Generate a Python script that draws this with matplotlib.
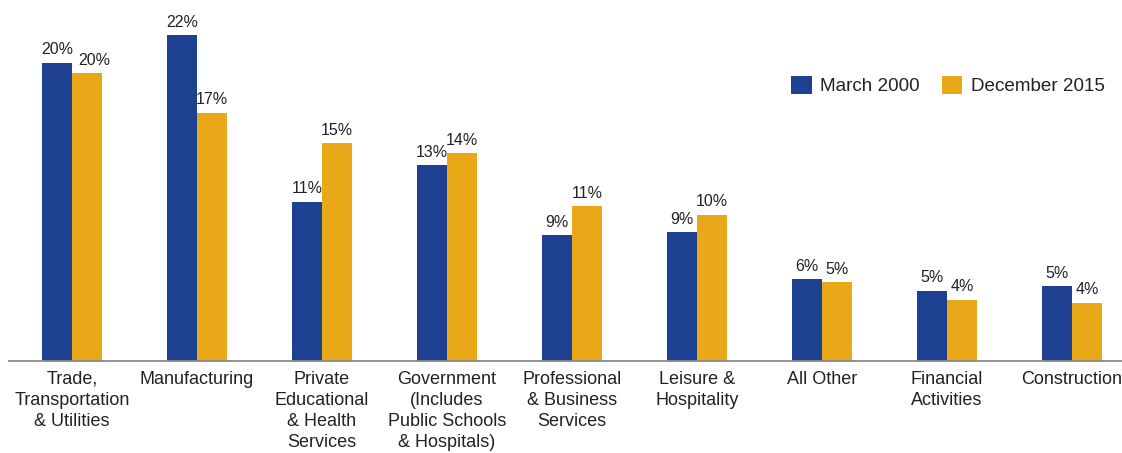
import matplotlib
matplotlib.use("Agg")
import matplotlib.pyplot as plt
from matplotlib.patches import Patch
import numpy as np

plt.rcParams['font.family'] = ['Liberation Sans', 'DejaVu Sans']

categories = [
    "Trade,\nTransportation\n& Utilities",
    "Manufacturing",
    "Private\nEducational\n& Health\nServices",
    "Government\n(Includes\nPublic Schools\n& Hospitals)",
    "Professional\n& Business\nServices",
    "Leisure &\nHospitality",
    "All Other",
    "Financial\nActivities",
    "Construction",
]
march_2000 = [20.4, 22.3, 10.9, 13.4, 8.6, 8.8, 5.6, 4.8, 5.1]
december_2015 = [19.7, 17.0, 14.9, 14.2, 10.6, 10.0, 5.4, 4.2, 4.0]
series_names = ["March 2000", "December 2015"]

BLUE = "#1E4091"
GOLD = "#E8A818"
TEXT = "#222222"

fig = plt.figure(figsize=(11.22, 4.53), dpi=100)
ax = fig.add_axes([9 / 1122, 92 / 453, 1113 / 1122, 361 / 453])

x = np.arange(len(categories))
w = 0.24
bars_a = ax.bar(x - w / 2, march_2000, width=w, color=BLUE, label=series_names[0])
bars_b = ax.bar(x + w / 2, december_2015, width=w, color=GOLD, label=series_names[1])

for k, (bars, vals) in enumerate(((bars_a, march_2000), (bars_b, december_2015))):
    for i, (b, v) in enumerate(zip(bars, vals)):
        # nudge the second label of the first group so the two don't collide
        dx = 5 if (k == 1 and i == 0) else 0
        ax.annotate(f"{v:.0f}%", (b.get_x() + b.get_width() / 2, v),
                    xytext=(dx, 4), textcoords="offset points",
                    ha="center", va="bottom", fontsize=11.5, color=TEXT)

ax.set_xlim(-0.504, 8.4)
ax.set_ylim(0, 24.7)
ax.set_xticks(x)
ax.set_xticklabels(categories, fontsize=13, color=TEXT, linespacing=1.32)
ax.tick_params(axis="x", length=0, pad=7)
ax.set_yticks([])
for side in ("top", "right", "left"):
    ax.spines[side].set_visible(False)
ax.spines["bottom"].set_color("#8a8a8a")
ax.spines["bottom"].set_linewidth(1.3)

handles = [Patch(facecolor=BLUE), Patch(facecolor=GOLD)]
fig.legend(handles, series_names, loc="upper left",
           bbox_to_anchor=(774 / 1122, 1 - 59 / 453), ncol=2, frameon=False,
           fontsize=13.6, handlelength=1.1, handleheight=1.1,
           handletextpad=0.45, columnspacing=1.15, labelcolor=TEXT)

fig.savefig("out.png", dpi=100, facecolor="white")
